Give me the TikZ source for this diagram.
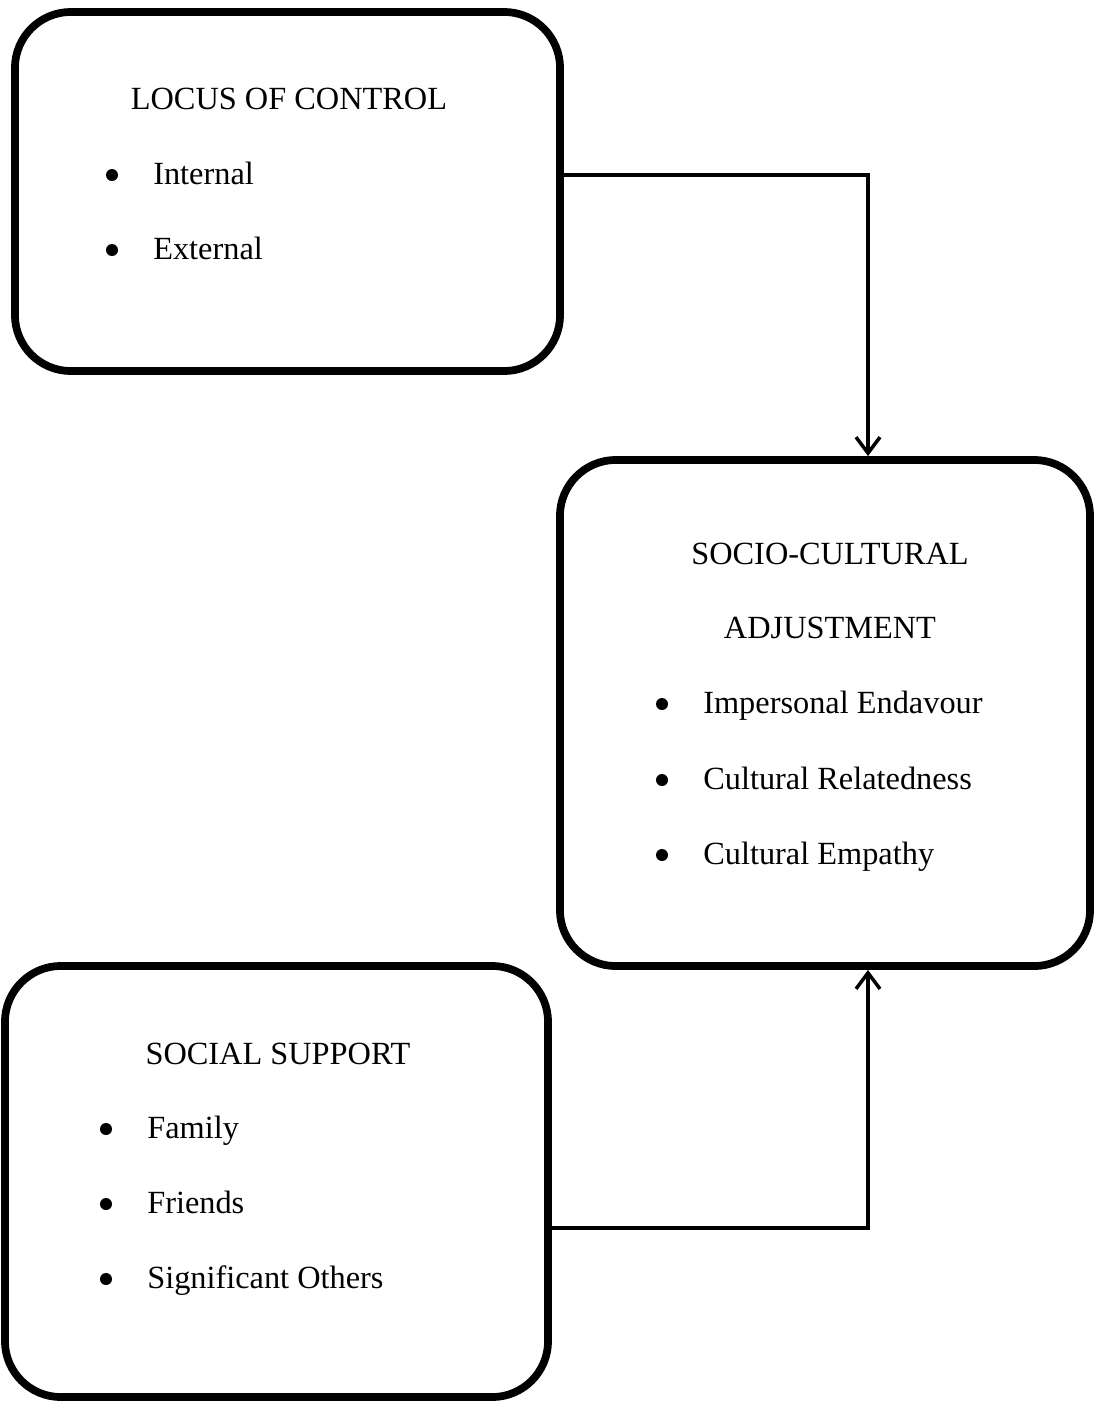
\documentclass[tikz,border=0pt]{standalone}
\usepackage{fontspec}
\setmainfont{Liberation Serif}
\usetikzlibrary{arrows.meta}

\begin{document}
\begin{tikzpicture}[x=0.025cm, y=-0.025cm,
		box/.style={draw, line width=5.5pt, rounded corners=1.4cm, inner sep=0pt},
		link/.style={-{Straight Barb[length=4mm, width=6mm]}, line width=2.5pt},
		title/.style={anchor=base, inner sep=0pt},
		item/.style={anchor=base west, inner sep=0pt},
		dot/.style={circle, fill, inner sep=0pt, minimum size=0.3cm}]
	\useasboundingbox (0,0) rectangle (1099,1403);
	\fontsize{23}{28}\selectfont
	\node[box, minimum width=13.625cm, minimum height=8.975cm] (loc) at (287.5, 191.5) {};
	\node[box, minimum width=13.25cm, minimum height=12.65cm] (sca) at (825, 713) {};
	\node[box, minimum width=13.575cm, minimum height=10.775cm] (sup) at (276.5, 1181.5) {};
	% locus of control
	\node[title] (loct) at (289, 109) {LOCUS OF CONTROL};
	\node[dot] (locd1) at (112, 175) {};
	\node[item] (loc1) at (153, 184) {Internal};
	\node[dot] (locd2) at (112, 250) {};
	\node[item] (loc2) at (153, 259) {External};
	% socio-cultural adjustment
	\node[title] (scat1) at (830, 564) {SOCIO-CULTURAL};
	\node[title] (scat2) at (830, 638) {ADJUSTMENT};
	\node[dot] (scad1) at (662, 704) {};
	\node[item] (sca1) at (703, 713) {Impersonal Endavour};
	\node[dot] (scad2) at (662, 780) {};
	\node[item] (sca2) at (703, 789) {Cultural Relatedness};
	\node[dot] (scad3) at (662, 855) {};
	\node[item] (sca3) at (703, 864) {Cultural Empathy};
	% social support
	\node[title] (supt) at (278, 1064) {SOCIAL SUPPORT};
	\node[dot] (supd1) at (106, 1129) {};
	\node[item] (sup1) at (147, 1138) {Family};
	\node[dot] (supd2) at (106, 1204) {};
	\node[item] (sup2) at (147, 1213) {Friends};
	\node[dot] (supd3) at (106, 1279) {};
	\node[item] (sup3) at (147, 1288) {Significant Others};
	% connectors
	\draw[link] ([yshift=0.4125cm]loc.east) -| ([xshift=1.075cm]sca.north);
	\draw[link] ([yshift=-1.1625cm]sup.east) -| ([xshift=1.075cm]sca.south);
\end{tikzpicture}
\end{document}
